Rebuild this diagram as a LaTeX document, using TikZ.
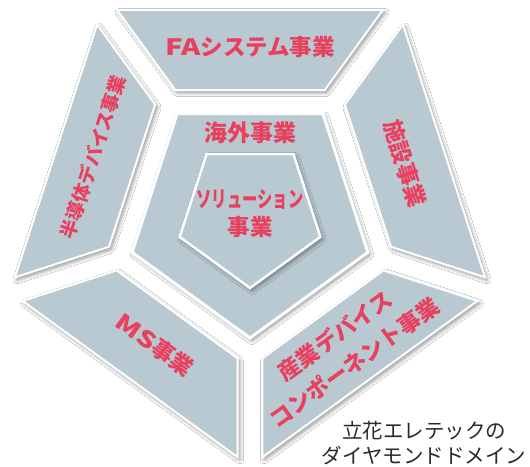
\documentclass[tikz,border=0pt]{standalone}
\usepackage{fontspec}
\newfontfamily\jp{Noto Sans CJK JP}
\newfontfamily\jpr{Noto Sans CJK JP}
\usetikzlibrary{calc,shadows.blur}
\definecolor{segfill}{HTML}{B9C9D1}
\definecolor{lblred}{HTML}{E8405F}
\definecolor{captxt}{HTML}{2A2A2A}
\newcommand{\widelat}[1]{\scalebox{1.3}[1]{#1}}
\newcommand{\narrowkana}[1]{\scalebox{0.68}[1]{#1}}
\begin{document}
\begin{tikzpicture}[x=1pt,y=1pt]
\tikzset{
  segshape/.style={fill=segfill, draw=white, line width=2pt, line join=miter,
    blur shadow={shadow xshift=2pt, shadow yshift=-2.5pt, shadow blur steps=10,
      shadow blur radius=4pt, shadow opacity=45}},
  lbl/.style={text=lblred, font=\jp\bfseries\fontsize{22.5}{30}\selectfont,
    align=center, inner sep=0pt},
  caption/.style={text=captxt, font=\jpr\fontsize{20.5}{25}\selectfont,
    align=center, inner sep=0pt}
}
\useasboundingbox (0,-466) rectangle (530,0);
\fill[white] (0,-466) rectangle (530,0);
\coordinate (C) at (250,-214);
% outer ring segments
\foreach \f in {90,18,-54,-126,162} {
  \draw[segshape]
    ($(C)+({\f+36}:243.15pt)+({\f-54}:12.4pt)$) --
    ($(C)+({\f-36}:243.15pt)+({\f+54}:12.4pt)$) --
    ($(C)+({\f-36}:144.26pt)+({\f+54}:12.4pt)$) --
    ($(C)+({\f+36}:144.26pt)+({\f-54}:12.4pt)$) -- cycle;
}
% middle pentagon
\draw[segshape, line width=3pt]
  ($(C)+(-90:124pt)$) -- ($(C)+(-18:124pt)$) -- ($(C)+(54:124pt)$) --
  ($(C)+(126:124pt)$) -- ($(C)+(198:124pt)$) -- cycle;
% inner pentagon
\draw[segshape, line width=2.5pt]
  ($(C)+(-90:74pt)$) -- ($(C)+(-18:74pt)$) -- ($(C)+(54:74pt)$) --
  ($(C)+(126:74pt)$) -- ($(C)+(198:74pt)$) -- cycle;
% labels
\node[lbl] (fa) at ($(C)+(90:167pt)$) {\widelat{FA}システム事業};
\node[lbl, rotate=72, font=\jp\bfseries\fontsize{19}{24}\selectfont] (semi) at ($(C)+(160:167pt)$) {半導体デバイス事業};
\node[lbl, rotate=-72] (fac) at ($(C)+(18:163pt)$) {施設事業};
\node[lbl, rotate=-36] (ms) at ($(C)+(234:162pt)$) {\widelat{MS}事業};
\node[lbl, rotate=36, font=\jp\bfseries\fontsize{22.5}{33}\selectfont] (ind) at ($(C)+(305:165pt)$) {産業デバイス\\コンポーネント事業};
\node[lbl, font=\jp\bfseries\fontsize{23}{28}\selectfont] (kai) at ($(C)+(0,81pt)$) {海外事業};
\node[lbl, font=\jp\bfseries\fontsize{22.5}{28}\selectfont] (sol) at (C) {\narrowkana{ソリューション}\\事業};
\node[caption] (cap) at (424,-443) {立花エレテックの\\ダイヤモンドドメイン};
\end{tikzpicture}
\end{document}
